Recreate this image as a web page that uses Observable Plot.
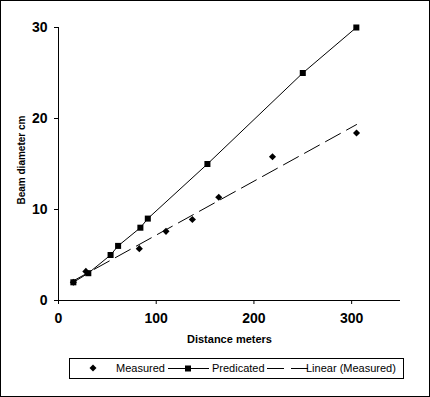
<!DOCTYPE html>
<html>
<head>
<meta charset="utf-8">
<script src="https://cdn.jsdelivr.net/npm/d3@7"></script>
<script src="https://cdn.jsdelivr.net/npm/@observablehq/plot@0.6"></script>
<style>
  html, body { margin: 0; padding: 0; background: #fff; }
  #wrap { position: relative; width: 430px; height: 397px; background: #fff; overflow: hidden; }
  #frame { position: absolute; left: 0; top: 0; width: 430px; height: 397px; box-sizing: border-box; border: 1px solid #000; pointer-events: none; }
  #legend { position: absolute; left: 69px; top: 358px; width: 335px; height: 21px; box-sizing: border-box; border: 1px solid #000; font: 11px "Liberation Sans", Arial, sans-serif; color: #000; }
  #legend .t { position: absolute; top: 0; line-height: 19px; white-space: nowrap; }
  #legend svg { position: absolute; top: 0; }
</style>
</head>
<body>
<div id="wrap">
  <div id="chart"></div>
  <div id="legend"></div>
  <div id="frame"></div>
</div>
<script>
// ---- data ----
const seriesNames = ["Measured", "Predicated", "Linear (Measured)"];
const predDistance = [15.2, 30.5, 53.3, 61, 83.8, 91.4, 152.4, 250, 304.8];
const predDiameter = [2, 3, 5, 6, 8, 9, 15, 25, 30];
const measDistance = [15.2, 28, 82.7, 110, 137, 164, 219, 305];
const measDiameter = [2.0, 3.2, 5.7, 7.6, 8.9, 11.35, 15.8, 18.4];
const xTicks = [0, 100, 200, 300];
const yTicks = [0, 10, 20, 30];
const xTitle = "Distance meters";
const yTitle = "Beam diameter cm";

const pred = predDistance.map((d, i) => ({x: d, y: predDiameter[i]}));
const meas = measDistance.map((d, i) => ({x: d, y: measDiameter[i]}));

const font = '"Liberation Sans", Arial, sans-serif';

const chart = Plot.plot({
  width: 430,
  height: 350,
  marginTop: 27,
  marginLeft: 58,
  marginRight: 30,
  marginBottom: 50,
  style: {fontFamily: font, background: "transparent", color: "#000"},
  x: {domain: [0, 350]},
  y: {domain: [0, 30]},
  marks: [
    Plot.axisX({ticks: xTicks, tickSize: 4, tickPadding: 9, label: null, fontSize: 14, fontWeight: "bold", stroke: "#000"}),
    Plot.axisY({ticks: yTicks, tickSize: 4, tickPadding: 7, label: null, fontSize: 14, fontWeight: "bold", stroke: "#000"}),
    Plot.ruleX([0], {stroke: "#000"}),
    Plot.ruleY([0], {stroke: "#000"}),
    Plot.linearRegressionY(meas, {x: "x", y: "y", ci: 0, stroke: "#000", strokeWidth: 1, strokeDasharray: "17,7"}),
    Plot.line(pred, {x: "x", y: "y", stroke: "#000", strokeWidth: 1}),
    Plot.dot(pred, {x: "x", y: "y", symbol: "square", r: 3.4, fill: "#000", stroke: "none"}),
    Plot.dot(meas, {x: "x", y: "y", symbol: "diamond2", r: 3.2, fill: "#000", stroke: "none"}),
    Plot.text([xTitle], {frameAnchor: "bottom", dy: 42, fontSize: 11, fontWeight: "bold", fill: "#000"}),
    Plot.text([yTitle], {frameAnchor: "left", rotate: -90, dx: -37, dy: 40.5, fontSize: 10, fontWeight: "bold", fill: "#000"})
  ]
});
document.getElementById("chart").appendChild(chart);

// ---- legend ----
const legend = d3.select("#legend");
function addSvg(left, width, draw) {
  const s = legend.append("svg").attr("width", width).attr("height", 19).style("left", left + "px");
  draw(s);
}
// Measured: diamond
addSvg(17, 12, s => s.append("path").attr("d", "M6,5.5L9.5,9L6,12.5L2.5,9Z").attr("fill", "#000"));
legend.append("span").attr("class", "t").style("left", "46px").text(seriesNames[0]);
// Predicated: line with square
addSvg(98, 41, s => {
  s.append("line").attr("x1", 0).attr("x2", 41).attr("y1", 9.5).attr("y2", 9.5).attr("stroke", "#000");
  s.append("rect").attr("x", 17).attr("y", 6.5).attr("width", 6).attr("height", 6).attr("fill", "#000");
});
legend.append("span").attr("class", "t").style("left", "142px").text(seriesNames[1]);
// Linear: dashed line
addSvg(197, 41, s => {
  s.append("line").attr("x1", 0).attr("x2", 41).attr("y1", 9.5).attr("y2", 9.5).attr("stroke", "#000").attr("stroke-dasharray", "17,7");
});
legend.append("span").attr("class", "t").style("left", "236px").text(seriesNames[2]);
</script>
</body>
</html>
